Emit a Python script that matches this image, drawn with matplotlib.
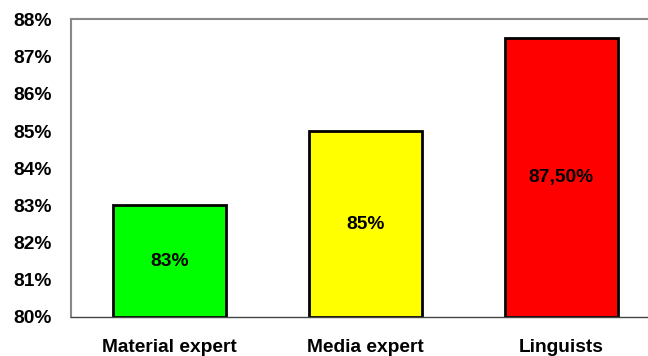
import matplotlib.pyplot as plt

categories = ['Material expert', 'Media expert', 'Linguists']
values = [83, 85, 87.5]
labels = ['83%', '85%', '87,50%']
colors = ['#00ff00', '#ffff00', '#ff0000']
yticks = [80, 81, 82, 83, 84, 85, 86, 87, 88]

plt.rcParams['font.family'] = ['Liberation Sans', 'DejaVu Sans']
plt.rcParams['font.weight'] = 'bold'

fig = plt.figure(figsize=(6.48, 3.56), dpi=100)
ax = fig.add_axes([0.1103, 0.1096, 0.907, 0.8357])

x = range(len(categories))
ax.bar(x, [v - 80 for v in values], bottom=80, width=0.577, color=colors,
       edgecolor='black', linewidth=2)
for i, v in enumerate(values):
    ax.text(i, 80 + (v - 80) / 2, labels[i], ha='center', va='center',
            fontsize=13.8, fontweight='bold')

ax.set_xlim(-0.5, 2.5)
ax.set_ylim(80, 88)
ax.set_yticks(yticks)
ax.set_yticklabels([f'{t}%' for t in yticks], fontsize=13.8, fontweight='bold')
ax.set_xticks(list(x))
ax.set_xticklabels(categories, fontsize=13.8, fontweight='bold')
ax.tick_params(axis='y', length=0, pad=14)
ax.tick_params(axis='x', length=0, pad=16)

ax.spines['left'].set_color('#888888')
ax.spines['left'].set_linewidth(1.5)
ax.spines['top'].set_color('#888888')
ax.spines['top'].set_linewidth(1.5)
ax.spines['bottom'].set_color('#444444')
ax.spines['bottom'].set_linewidth(1)
ax.spines['right'].set_visible(False)

fig.savefig('out.png', dpi=100)
